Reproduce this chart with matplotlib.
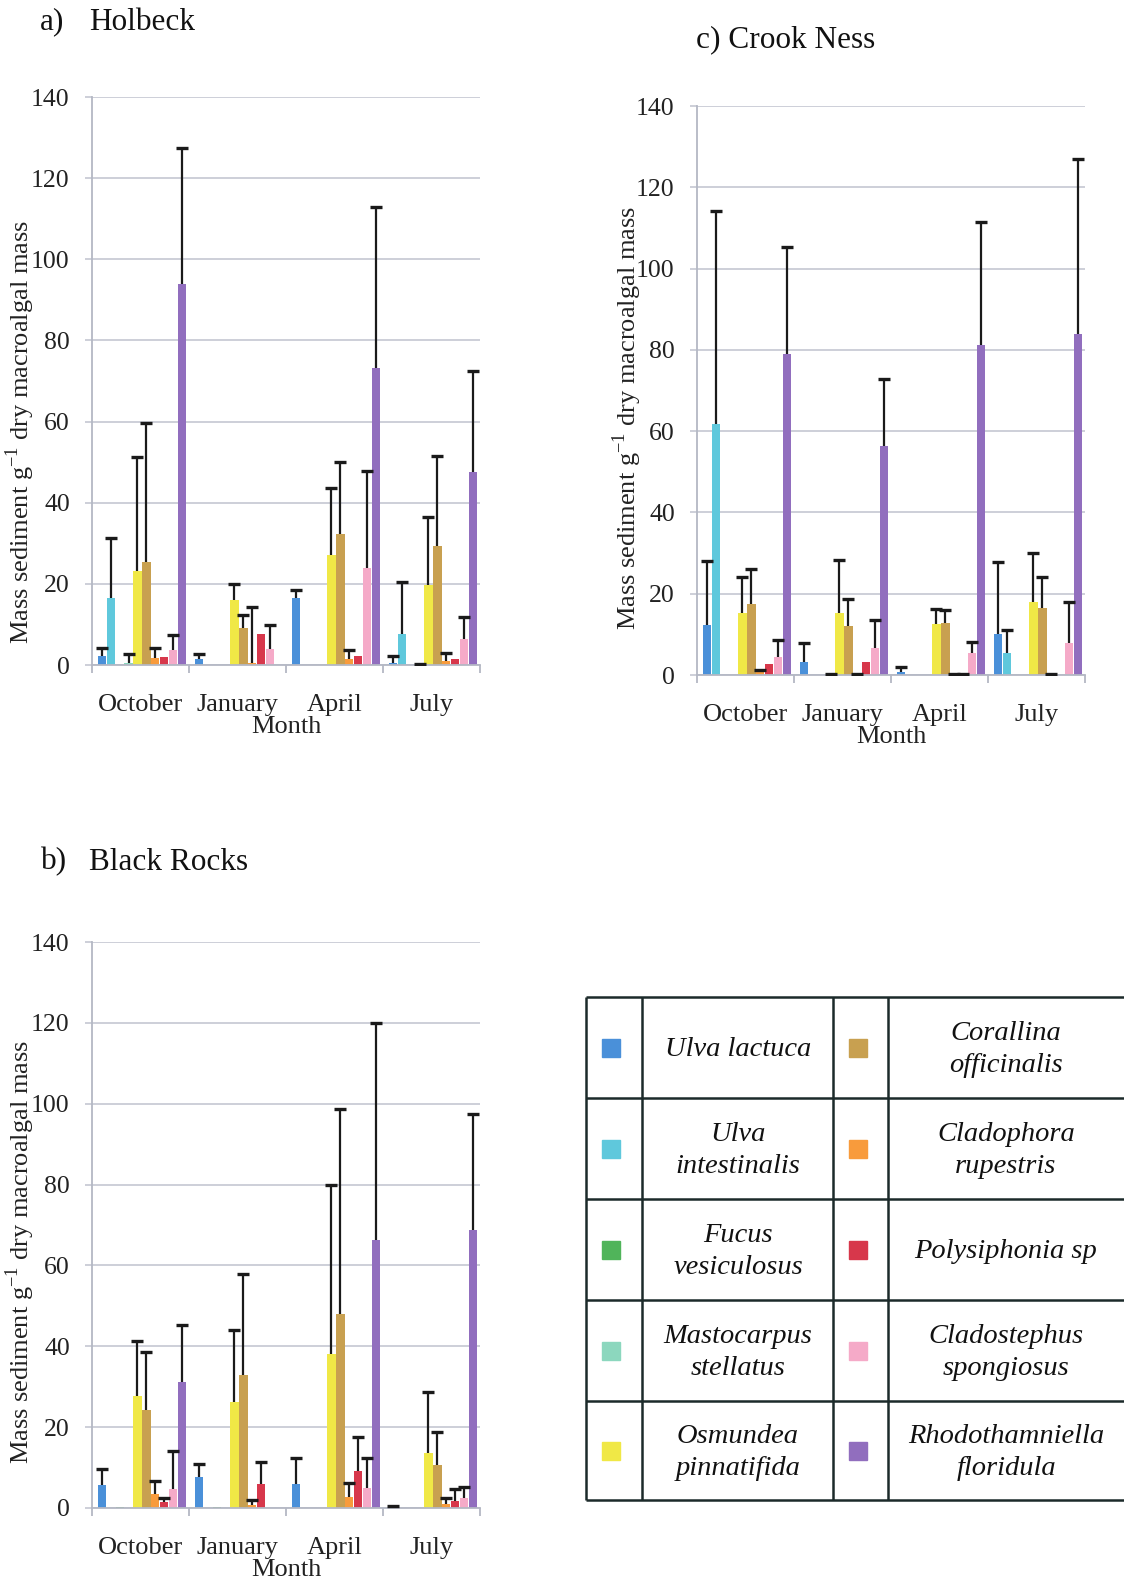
import matplotlib

matplotlib.use("Agg")
import matplotlib.pyplot as plt
import numpy as np

plt.rcParams["font.family"] = ["Liberation Serif", "DejaVu Serif"]
plt.rcParams["mathtext.fontset"] = "custom"
plt.rcParams["mathtext.rm"] = "Liberation Serif"

W, H = 1124, 1582

months = ["October", "January", "April", "July"]
species = [
    "Ulva lactuca", "Ulva\nintestinalis", "Fucus\nvesiculosus",
    "Mastocarpus\nstellatus", "Osmundea\npinnatifida", "Corallina\nofficinalis",
    "Cladophora\nrupestris", "Polysiphonia sp", "Cladostephus\nspongiosus",
    "Rhodothamniella\nfloridula",
]
colors = [
    "#4a90d9", "#5fc8dc", "#50b45a", "#8cd7be", "#f0e846",
    "#c8a050", "#f89b3c", "#d7374b", "#f5aac8", "#916ebe",
]
nan = np.nan

# mean values, one row per species (Oct, Jan, Apr, Jul)
holbeck_mean = [
    [2.1, 1.5, 16.4, 0.4], [16.6, 0, 0, 7.7], [0, 0, 0, 0], [0.5, 0, 0, 0.3],
    [23.2, 15.9, 27.2, 19.6], [25.5, 9.0, 32.4, 29.4], [1.7, 0.4, 1.5, 1.0],
    [1.9, 7.7, 2.3, 1.6], [3.7, 3.9, 24.0, 6.4], [94.0, 0, 73.1, 47.5],
]
# top of error bar (mean + SE), nan where none is drawn
holbeck_top = [
    [4.3, 2.6, 18.4, 2.3], [31.4, nan, nan, 20.4], [nan, nan, nan, nan], [2.7, nan, nan, 0.3],
    [51.3, 20.0, 43.7, 36.6], [59.6, 12.3, 50.0, 51.5], [4.1, 14.4, 3.8, 2.9],
    [nan, nan, nan, nan], [7.3, 9.9, 47.8, 11.8], [127.4, nan, 113.0, 72.4],
]

crook_mean = [
    [12.3, 3.3, 0.8, 10.2], [61.8, 0, 0, 5.5], [0, 0, 0, 0], [0.1, 0.3, 0, 0],
    [15.2, 15.2, 12.5, 18.0], [17.4, 12.0, 12.7, 16.5], [1.0, 0.2, 0.3, 0.3],
    [2.7, 3.2, 0.3, 0], [4.4, 6.7, 5.5, 7.9], [79.0, 56.4, 81.3, 83.9],
]
crook_top = [
    [28.1, 7.8, 1.9, 27.7], [114.2, nan, nan, 11.0], [nan, nan, nan, nan], [nan, 0.3, nan, nan],
    [24.2, 28.4, 16.2, 29.9], [26.2, 18.8, 16.0, 24.0], [1.2, 0.2, 0.3, 0.3],
    [nan, nan, 0.3, nan], [8.6, 13.6, 8.0, 18.0], [105.3, 72.9, 111.5, 126.9],
]

black_mean = [
    [5.6, 7.6, 5.9, 0.4], [0, 0, 0, 0], [0.2, 0.2, 0, 0], [0, 0, 0, 0],
    [27.8, 26.3, 38.0, 13.5], [24.2, 32.9, 48.1, 10.6], [3.5, 0.8, 2.6, 1.0],
    [1.5, 6.0, 9.1, 1.8], [4.8, 0, 4.9, 2.5], [31.2, 0, 66.4, 68.7],
]
black_top = [
    [9.7, 10.9, 12.4, 0.4], [nan, nan, nan, nan], [nan, nan, nan, nan], [nan, nan, nan, nan],
    [41.2, 44.0, 80.0, 28.6], [38.5, 58.0, 98.8, 18.7], [6.6, 1.9, 6.1, 2.4],
    [2.5, 11.3, 17.6, 4.7], [14.0, nan, 12.3, 5.3], [45.3, nan, 119.9, 97.5],
]

GRID = "#c9cbd6"
SPINE = "#b4b8c4"
TEXT = "#222222"
ERR = "#1a1a1a"


def fx(x):
    return x / W


def fy(y):
    return 1 - y / H


def draw_panel(fig, box, means, tops, ylab_xy, month_y):
    left, top, right, bottom = box
    ax = fig.add_axes([fx(left), fy(bottom), fx(right - left), (bottom - top) / H])
    x = np.arange(len(months))
    step, bar_w, center = 0.092, 0.085, 0.515
    for i, (m, t, c) in enumerate(zip(means, tops, colors)):
        xs = x + center + (i - 4.5) * step
        m = np.asarray(m, float)
        t = np.asarray(t, float)
        ax.bar(xs, m, width=bar_w, color=c, zorder=2)
        ok = ~np.isnan(t)
        if ok.any():
            # upper error only: stem plus a cap at the top
            ax.vlines(xs[ok], m[ok], t[ok], color=ERR, lw=1.6, zorder=3)
            ax.plot(xs[ok], t[ok], ls="none", marker="_", markersize=8,
                    markeredgewidth=2.4, color=ERR, zorder=3)
    ax.set_xlim(0, 4)
    ax.set_ylim(0, 140)
    ax.set_yticks(np.arange(0, 141, 20))
    ax.yaxis.grid(True, color=GRID, lw=1.3, zorder=0)
    ax.set_axisbelow(True)
    for s in ("top", "right"):
        ax.spines[s].set_visible(False)
    for s in ("left", "bottom"):
        ax.spines[s].set_color(SPINE)
        ax.spines[s].set_linewidth(1.3)
    ax.set_xticks(np.arange(5))
    ax.set_xticklabels([])
    ax.set_xticks(x + 0.5, minor=True)
    ax.set_xticklabels(months, minor=True, fontsize=19, color=TEXT)
    ax.tick_params(axis="x", which="major", length=6, color=SPINE, width=1.3)
    ax.tick_params(axis="x", which="minor", length=0, pad=21)
    ax.tick_params(axis="y", length=5, color=GRID, width=1.3, pad=11,
                   labelsize=18.5, labelcolor=TEXT)
    fig.text(fx(ylab_xy[0]), fy(ylab_xy[1]),
             "Mass sediment g$^{-1}$ dry macroalgal mass", rotation=90,
             ha="center", va="center", fontsize=19, color=TEXT)
    fig.text(fx((left + right) / 2), fy(month_y), "Month",
             ha="center", va="center", fontsize=19, color=TEXT)
    return ax


fig = plt.figure(figsize=(W / 100, H / 100), dpi=100)

draw_panel(fig, (92, 97, 480, 665), holbeck_mean, holbeck_top, (20, 432), 727)
draw_panel(fig, (697, 106, 1085, 675), crook_mean, crook_top, (627, 418), 737)
draw_panel(fig, (92, 942, 480, 1508), black_mean, black_top, (20, 1252), 1570)

fig.text(fx(40), fy(22), "a)", fontsize=22.5, va="center", color="#111111")
fig.text(fx(89), fy(22), "Holbeck", fontsize=22.5, va="center", color="#111111")
fig.text(fx(696), fy(40), "c) Crook Ness", fontsize=22.5, va="center", color="#111111")
fig.text(fx(41), fy(862), "b)", fontsize=22.5, va="center", color="#111111")
fig.text(fx(89), fy(862), "Black Rocks", fontsize=22.5, va="center", color="#111111")

# legend table drawn in pixel space
lg = fig.add_axes([0, 0, 1, 1], zorder=5)
lg.set_xlim(0, W)
lg.set_ylim(H, 0)
lg.axis("off")
rows = [997, 1098, 1199, 1300, 1401, 1500]
cols = [586, 642, 833, 888]
line_kw = dict(color="#1c2a2a", lw=1.8, solid_capstyle="butt")
for y in rows:
    lg.plot([cols[0], W + 5], [y, y], **line_kw)
for xc in cols:
    lg.plot([xc, xc], [rows[0], rows[-1]], **line_kw)
sw = 18
for k, (name, c) in enumerate(zip(species, colors)):
    col, row = divmod(k, 5)
    yc = (rows[row] + rows[row + 1]) / 2 + 2
    sx = 611 if col == 0 else 858
    tx = 738 if col == 0 else 1006
    lg.add_patch(plt.Rectangle((sx - sw / 2, yc - 2 - sw / 2), sw, sw, color=c))
    lg.text(tx, yc, name, ha="center", va="center", fontsize=20.5,
            style="italic", color="#111111", linespacing=1.4)

fig.savefig("out.png", dpi=100)
